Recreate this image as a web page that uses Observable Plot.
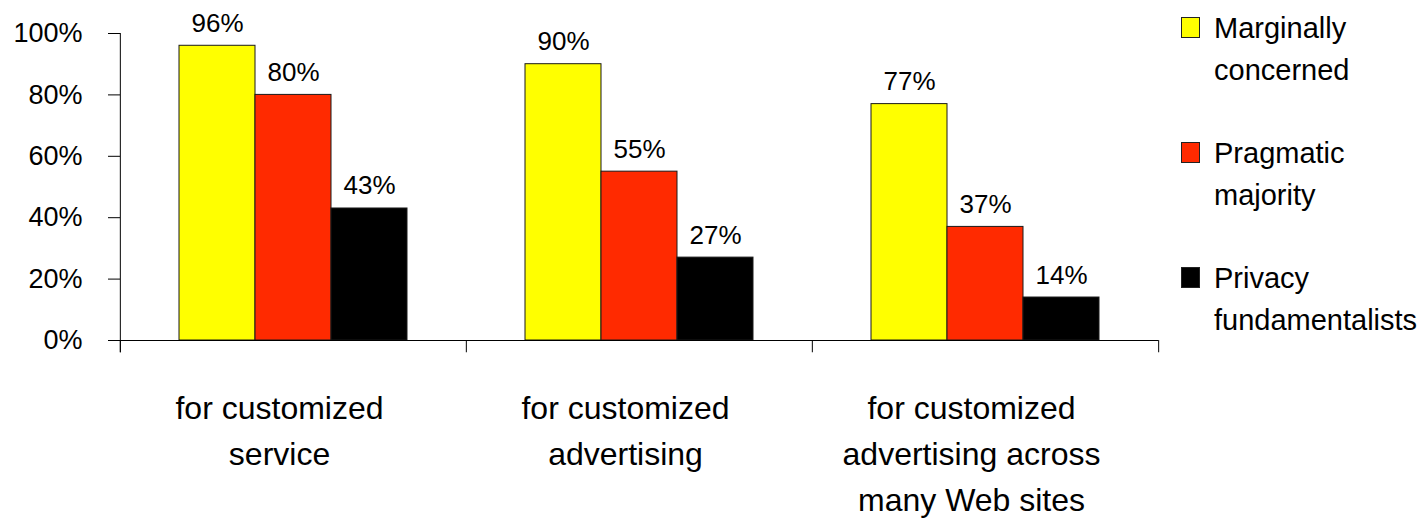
<!DOCTYPE html>
<html>
<head>
<meta charset="utf-8">
<script src="https://cdn.jsdelivr.net/npm/d3@7"></script>
<script src="https://cdn.jsdelivr.net/npm/@observablehq/plot@0.6"></script>
<style>
  body { margin: 0; background: #fff; font-family: "Liberation Sans", Arial, sans-serif; }
  #wrap { position: relative; width: 1426px; height: 530px; overflow: hidden; }
  .leg-text { position: absolute; font-size: 29px; line-height: 42px; color: #000; white-space: pre-line; }
  .leg-sw { position: absolute; box-sizing: border-box; border: 1px solid #222; }
</style>
</head>
<body>
<div id="wrap"></div>
<script>
// ---- data ----
const categories = [
  "for customized\nservice",
  "for customized\nadvertising",
  "for customized\nadvertising across\nmany Web sites"
];
const series = ["Marginally concerned", "Pragmatic majority", "Privacy fundamentalists"];
const legendLabels = ["Marginally\nconcerned", "Pragmatic\nmajority", "Privacy\nfundamentalists"];
const colors = ["#FFFF00", "#FF2A00", "#000000"];
const marginallyConcerned = [0.96, 0.90, 0.77];
const pragmaticMajority = [0.80, 0.55, 0.37];
const privacyFundamentalists = [0.43, 0.27, 0.14];
const yTicks = [0, 0.2, 0.4, 0.6, 0.8, 1];

const valuesBySeries = [marginallyConcerned, pragmaticMajority, privacyFundamentalists];
const data = [];
categories.forEach((c, i) => {
  series.forEach((s, j) => data.push({category: c, series: s, value: valuesBySeries[j][i]}));
});

const fmt = d3.format(".0%");
const W = 1426, H = 530, ML = 119, MR = 268, MT = 33, MB = 190;
const facetW = (W - ML - MR) / categories.length;

const chart = Plot.plot({
  width: W, height: H,
  marginLeft: ML, marginRight: MR, marginTop: MT, marginBottom: MB,
  style: {fontFamily: "'Liberation Sans', Arial, sans-serif", background: "#fff", color: "#000"},
  fx: {domain: categories, padding: 0, label: null},
  x: {domain: series, paddingInner: 0, paddingOuter: 0.77, axis: null},
  y: {domain: [0, 1], axis: null},
  color: {domain: series, range: colors},
  marks: [
    Plot.barY(data, {fx: "category", x: "series", y: "value", fill: "series", stroke: "#1a1a1a", strokeWidth: 1}),
    Plot.text(data, {fx: "category", x: "series", y: "value", text: d => fmt(d.value),
      lineAnchor: "bottom", dy: -14, fontSize: 26, fill: "#000"}),
    Plot.ruleY([0], {stroke: "#000", strokeWidth: 1.2}),
    Plot.ruleX(categories, {fx: d => d, x: null, y1: 0, y2: -0.04, dx: -facetW / 2, stroke: "#000"}),
    Plot.ruleX(categories.slice(-1), {fx: d => d, x: null, y1: 0, y2: -0.04, dx: facetW / 2, stroke: "#000"}),
    Plot.ruleX(categories.slice(0, 1), {fx: d => d, x: null, y1: 1, y2: -0.04, dx: -facetW / 2, stroke: "#000"}),
    Plot.axisY({ticks: yTicks, tickFormat: fmt, tickSize: 12, tickPadding: 26, fontSize: 27, label: null}),
    Plot.axisFx({anchor: "bottom", tickSize: 0, tickPadding: 46, fontSize: 32, lineHeight: 1.44, dx: -14, label: null})
  ]
});

const wrap = document.getElementById("wrap");
wrap.appendChild(chart);

// legend (HTML, to the right of the plot)
legendLabels.forEach((lab, i) => {
  const sw = document.createElement("div");
  sw.className = "leg-sw";
  Object.assign(sw.style, {left: "1181px", top: (17 + 125 * i) + "px", width: "19px", height: "21px", background: colors[i]});
  wrap.appendChild(sw);
  const t = document.createElement("div");
  t.className = "leg-text";
  t.textContent = lab;
  Object.assign(t.style, {left: "1214px", top: (7 + 125 * i) + "px"});
  wrap.appendChild(t);
});
</script>
</body>
</html>
